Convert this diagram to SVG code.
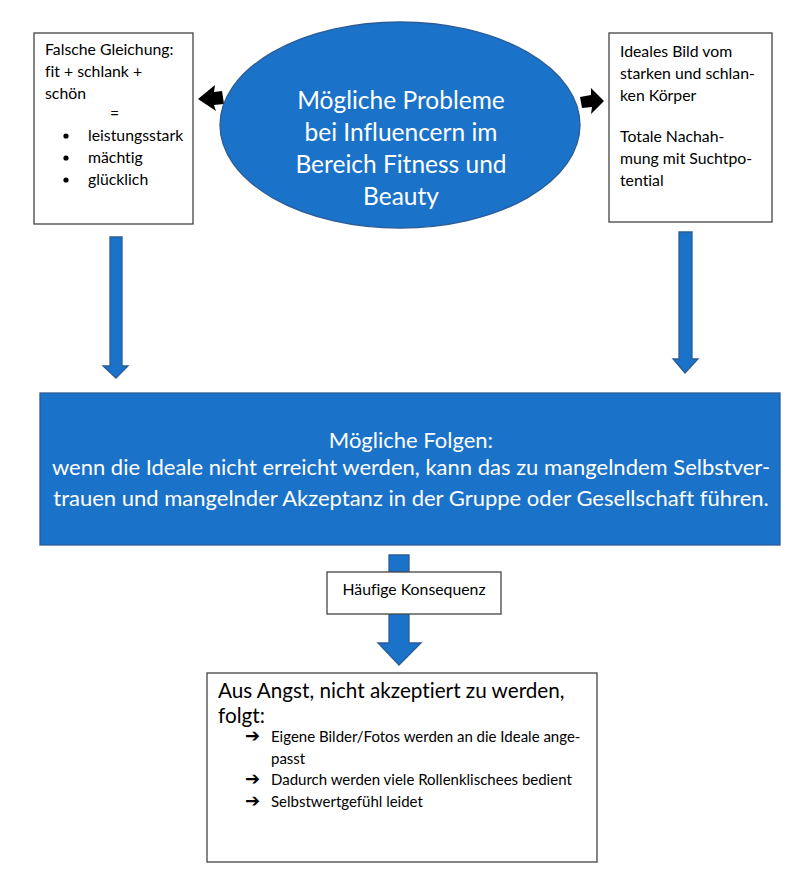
<svg xmlns="http://www.w3.org/2000/svg" width="800" height="893" viewBox="0 0 800 893">
<style>
.box{fill:#fff;stroke:#444;stroke-width:1.3}
.blue{fill:#1a72c9;stroke:#2b5c98;stroke-width:1.3}
.t{font-family:Lato,"Open Sans",sans-serif;fill:#000;font-variant-ligatures:none}
.w{font-family:Lato,"Open Sans",sans-serif;fill:#fff;font-variant-ligatures:none}
.arr{font-family:"DejaVu Sans",sans-serif;font-weight:bold;fill:#000}
.blk{fill:#000}
</style>
<rect width="800" height="893" fill="#fff"/>
<g id="connectors">
<polygon class="blue" points="110,237 122,237 122,366 128,366 116,378 103,366 110,366"/>
<polygon class="blue" points="679,232 692,232 692,359 698,359 685,373 673,359 679,359"/>
<polygon class="blue" points="389,555 409,555 409,643 421,643 399,665 378,643 389,643"/>
<polygon class="blk" points="198,99 215,85 214,92 222,91 224,104 214,105 216,111"/>
<polygon class="blk" points="604,101 591,88 591,95 580,97 582,108 592,107 591,114"/>
</g>
<g id="problems">
<ellipse class="blue" cx="400" cy="125" rx="180" ry="103"/>
<text class="w" font-size="24.5" text-anchor="middle"><tspan x="401" y="109">Mögliche Probleme</tspan><tspan x="401" y="141">bei Influencern im</tspan><tspan x="401" y="173">Bereich Fitness und</tspan><tspan x="401" y="205">Beauty</tspan></text>
</g>
<g id="gleichung">
<rect class="box" x="34" y="33" width="159" height="191"/>
<text class="t" font-size="15.8"><tspan x="45" y="55">Falsche Gleichung:</tspan><tspan x="45" y="77">fit + schlank +</tspan><tspan x="45" y="99">schön</tspan><tspan x="110" y="119">=</tspan><tspan x="88" y="141">leistungsstark</tspan><tspan x="88" y="163">mächtig</tspan><tspan x="88" y="185">glücklich</tspan></text>
<circle cx="66" cy="136" r="2.6" class="blk"/>
<circle cx="66" cy="158" r="2.6" class="blk"/>
<circle cx="66" cy="180" r="2.6" class="blk"/>
</g>
<g id="ideal">
<rect class="box" x="609" y="33" width="163" height="189"/>
<text class="t" font-size="15.8"><tspan x="620" y="57">Ideales Bild vom</tspan><tspan x="620" y="79">starken und schlan-</tspan><tspan x="620" y="101">ken Körper</tspan><tspan x="620" y="142">Totale Nachah-</tspan><tspan x="620" y="164">mung mit Suchtpo-</tspan><tspan x="620" y="186">tential</tspan></text>
</g>
<g id="folgen">
<rect class="blue" x="40" y="393" width="740" height="152"/>
<text class="w" font-size="22" text-anchor="middle"><tspan x="411" y="448">Mögliche Folgen:</tspan><tspan x="411" y="475">wenn die Ideale nicht erreicht werden, kann das zu mangelndem Selbstver-</tspan><tspan x="411" y="506">trauen und mangelnder Akzeptanz in der Gruppe oder Gesellschaft führen.</tspan></text>
</g>
<g id="konsequenz">
<rect class="box" x="327" y="572" width="174" height="42"/>
<text class="t" font-size="15.8" text-anchor="middle" x="414" y="595">Häufige Konsequenz</text>
</g>
<g id="angst">
<rect class="box" x="207" y="673" width="390" height="189"/>
<text class="t" font-size="20.7"><tspan x="218" y="698">Aus Angst, nicht akzeptiert zu werden,</tspan><tspan x="218" y="723">folgt:</tspan></text>
<text class="arr" font-size="18"><tspan x="245" y="742">➔</tspan><tspan x="245" y="785">➔</tspan><tspan x="245" y="807">➔</tspan></text>
<text class="t" font-size="15"><tspan x="271" y="742">Eigene Bilder/Fotos werden an die Ideale ange-</tspan><tspan x="271" y="764">passt</tspan><tspan x="271" y="785">Dadurch werden viele Rollenklischees bedient</tspan><tspan x="271" y="807">Selbstwertgefühl leidet</tspan></text>
</g>
</svg>
